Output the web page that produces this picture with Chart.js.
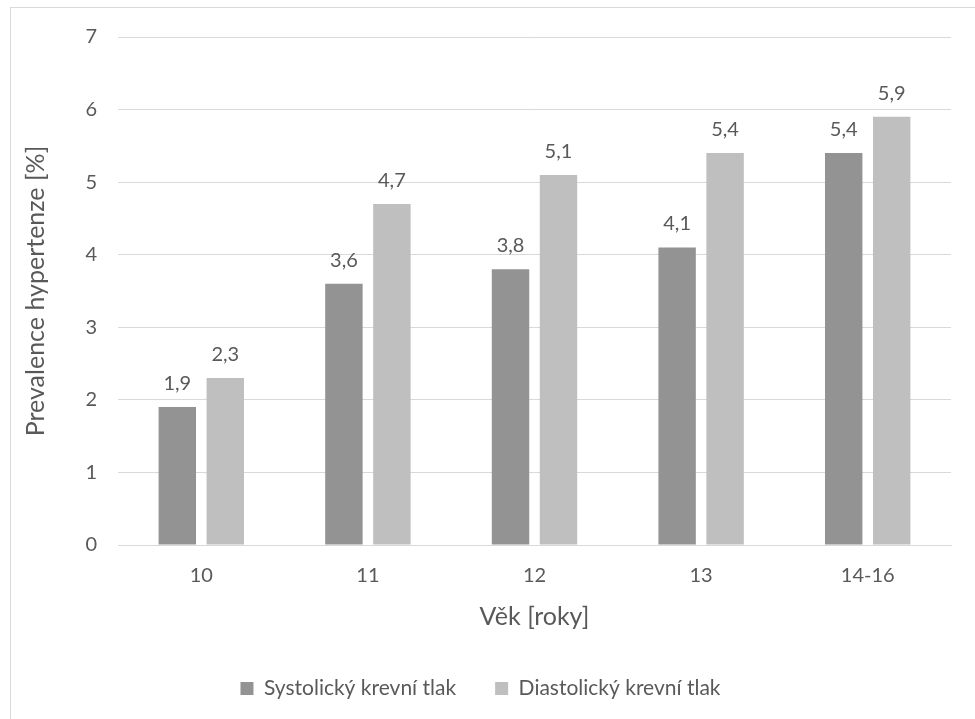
<!DOCTYPE html>
<html>
<head>
<meta charset="utf-8">
<script src="https://cdn.jsdelivr.net/npm/chart.js@4"></script>
<style>
html,body{margin:0;padding:0;background:#fff;overflow:hidden;}
#wrap{position:relative;width:975px;height:719px;}
</style>
</head>
<body>
<div id="wrap"><canvas id="c"></canvas></div>
<script>
const categories = ['10', '11', '12', '13', '14-16'];
const systolic = [1.9, 3.6, 3.8, 4.1, 5.4];
const diastolic = [2.3, 4.7, 5.1, 5.4, 5.9];
const seriesNames = ['Systolický krevní tlak', 'Diastolický krevní tlak'];
const yTicks = [0, 1, 2, 3, 4, 5, 6, 7];
const yTitle = 'Prevalence hypertenze [%]';
const xTitle = 'Věk [roky]';

const FONT = 'Lato';
const TEXT = '#595959';
const GRID = '#d9d9d9';

const frame = {
  id: 'frame',
  beforeDraw(chart) {
    const ctx = chart.ctx;
    ctx.save();
    ctx.fillStyle = '#fff';
    ctx.fillRect(0, 0, chart.width, chart.height);
    ctx.strokeStyle = GRID;
    ctx.lineWidth = 1;
    ctx.strokeRect(10.5, 7.5, chart.width + 20, chart.height + 20);
    ctx.restore();
  }
};

const labels = {
  id: 'valueLabels',
  afterDatasetsDraw(chart) {
    const ctx = chart.ctx;
    ctx.save();
    ctx.font = '20px ' + FONT;
    ctx.fillStyle = TEXT;
    ctx.textAlign = 'center';
    ctx.textBaseline = 'alphabetic';
    chart.data.datasets.forEach((ds, i) => {
      chart.getDatasetMeta(i).data.forEach((bar, j) => {
        const v = ds.data[j];
        ctx.fillText(String(v).replace('.', ','), bar.x, bar.y - 17);
      });
    });
    ctx.restore();
  }
};

new Chart(document.getElementById('c'), {
  type: 'bar',
  data: {
    labels: categories,
    datasets: [
      { label: seriesNames[0], data: systolic, backgroundColor: '#939393', borderWidth: 0,
        categoryPercentage: 0.576, barPercentage: 0.78 },
      { label: seriesNames[1], data: diastolic, backgroundColor: '#bfbfbf', borderWidth: 0,
        categoryPercentage: 0.576, barPercentage: 0.78 }
    ]
  },
  options: {
    responsive: true,
    maintainAspectRatio: false,
    animation: false,
    layout: { padding: { left: 10, top: 37, right: 24, bottom: 10 } },
    plugins: {
      legend: {
        position: 'bottom',
        labels: {
          font: { family: FONT, size: 21 },
          color: TEXT,
          boxWidth: 13,
          boxHeight: 13,
          padding: 39
        }
      },
      tooltip: { enabled: false }
    },
    scales: {
      x: {
        grid: { drawOnChartArea: false, drawTicks: false },
        border: { display: true, color: GRID, width: 1 },
        ticks: { font: { family: FONT, size: 20 }, color: TEXT, padding: 19 },
        title: { display: true, text: xTitle, font: { family: FONT, size: 25 }, color: TEXT,
                 padding: { top: 0, bottom: 7 } },
        afterFit(s) { s.height = 94; }
      },
      y: {
        min: 0, max: 7,
        afterBuildTicks(s) { s.ticks = yTicks.map(v => ({ value: v })); },
        grid: { color: GRID, drawTicks: false },
        border: { display: false },
        ticks: { font: { family: FONT, size: 20 }, color: TEXT, padding: 21 },
        title: { display: true, text: yTitle, font: { family: FONT, size: 25 }, color: TEXT,
                 padding: { top: 11, bottom: 0 } },
        afterFit(s) { s.width = 108; }
      }
    }
  },
  plugins: [frame, labels]
});
</script>
</body>
</html>
